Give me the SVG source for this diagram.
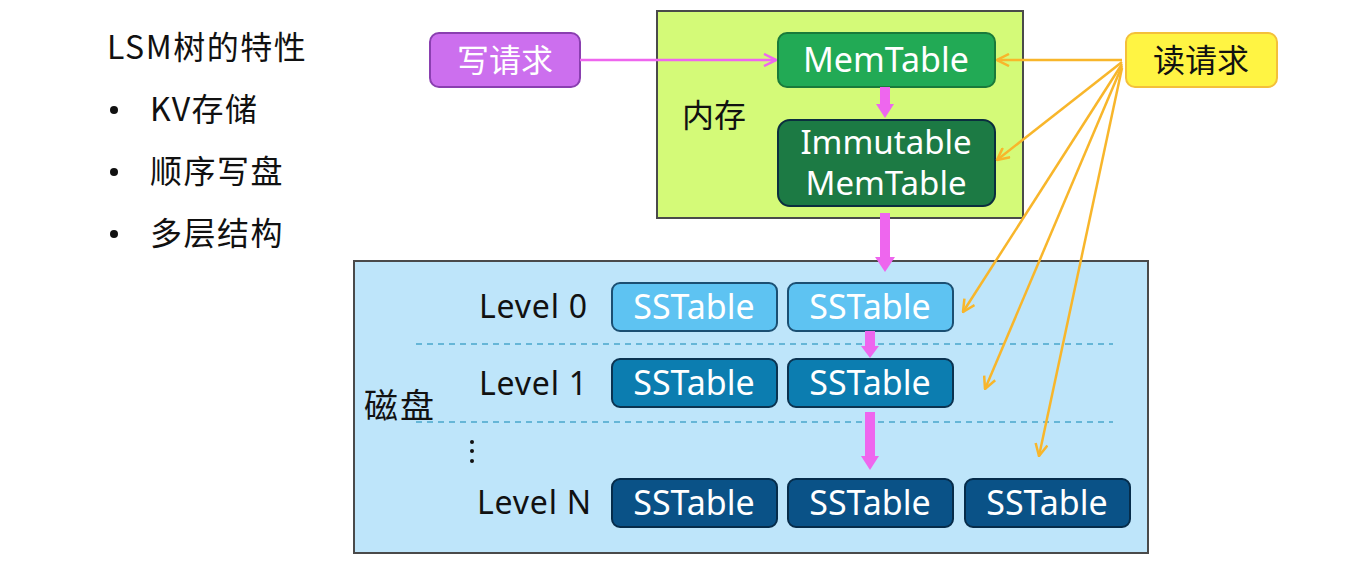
<svg xmlns="http://www.w3.org/2000/svg" width="1352" height="568" viewBox="0 0 1352 568">
<defs>
<style>
.t{font-family:"Noto Sans","Noto Sans CJK SC",sans-serif;}
.cjk{font-family:"Noto Sans CJK SC","Noto Sans",sans-serif;}
.w{fill:#ffffff;text-anchor:middle;}
.ss{font-size:34px;}
.lv{fill:#111;font-size:32px;letter-spacing:0.8px;}
.ss0{fill:#5EC3F2;stroke:#1B4F72;stroke-width:2;}
.ss1{fill:#0C7DB0;stroke:#0B3350;stroke-width:2;}
.ssN{fill:#0A5287;stroke:#062C4A;stroke-width:2;}
.or{stroke:#F8B62B;stroke-width:2.5;fill:none;marker-end:url(#ao);}
.pk{stroke:#EE66EE;stroke-width:10;fill:none;}
.dash{stroke:#4AA6CC;stroke-width:1.5;stroke-dasharray:6 5;}
.li{font-size:32px;fill:#111;letter-spacing:1.5px;}
</style>
<marker id="ao" viewBox="0 0 14 14" refX="13" refY="7" markerWidth="14" markerHeight="14" markerUnits="userSpaceOnUse" orient="auto">
<path d="M1,1 L13,7 L1,13" fill="none" stroke="#F8B62B" stroke-width="2.5"/>
</marker>
<marker id="ap" viewBox="0 0 14 14" refX="13" refY="7" markerWidth="14" markerHeight="14" markerUnits="userSpaceOnUse" orient="auto">
<path d="M1,1 L13,7 L1,13" fill="none" stroke="#EE66EE" stroke-width="2.5"/>
</marker>
</defs>
<rect width="1352" height="568" fill="#ffffff"/>

<g id="features">
<text class="cjk li" x="107" y="59">LSM树的特性</text>
<circle cx="114" cy="110" r="4" fill="#111"/>
<text class="cjk li" x="150" y="121">KV存储</text>
<circle cx="114" cy="172" r="4" fill="#111"/>
<text class="cjk li" x="150" y="183">顺序写盘</text>
<circle cx="114" cy="234" r="4" fill="#111"/>
<text class="cjk li" x="150" y="245">多层结构</text>
</g>

<g id="memory">
<rect x="657" y="11" width="366" height="207" fill="#D4FA78" stroke="#4A4A4A" stroke-width="2"/>
<text class="cjk" x="682" y="127" font-size="32" fill="#111">内存</text>
</g>

<g id="disk">
<rect x="354" y="261" width="794" height="292" fill="#BEE5FA" stroke="#4A4A4A" stroke-width="2"/>
<text class="cjk" x="364" y="418" font-size="34" fill="#111" letter-spacing="2">磁盘</text>
<line class="dash" x1="416" y1="344" x2="1113" y2="344"/>
<line class="dash" x1="416" y1="422" x2="1113" y2="422"/>
<circle cx="472" cy="442" r="2" fill="#111"/>
<circle cx="472" cy="451" r="2" fill="#111"/>
<circle cx="472" cy="461" r="2" fill="#111"/>
</g>

<g id="write-request">
<rect x="430" y="33" width="150" height="54" rx="9" fill="#CC6FEE" stroke="#8A3FB0" stroke-width="2"/>
<text class="cjk w" x="505" y="72" font-size="32">写请求</text>
</g>

<g id="read-request">
<rect x="1126" y="33" width="151" height="54" rx="9" fill="#FFF443" stroke="#F4C03A" stroke-width="2"/>
<text class="cjk" x="1201" y="72" font-size="32" fill="#111" text-anchor="middle">读请求</text>
</g>

<g id="memtable">
<rect x="778" y="33" width="217" height="54" rx="9" fill="#22AA55" stroke="#1A7A3A" stroke-width="2"/>
<text class="t w" x="886" y="72" font-size="34">MemTable</text>
</g>

<g id="immutable">
<rect x="778" y="120" width="217" height="86" rx="12" fill="#1C7A44" stroke="#0B2E3E" stroke-width="2"/>
<text class="t w" x="886" y="154" font-size="33">Immutable</text>
<text class="t w" x="886" y="195" font-size="33">MemTable</text>
</g>

<g id="level0">
<text class="t lv" x="479" y="318">Level 0</text>
<rect class="ss0" x="612" y="283" width="165" height="48" rx="8"/>
<text class="t w ss" x="694" y="319">SSTable</text>
<rect class="ss0" x="788" y="283" width="165" height="48" rx="8"/>
<text class="t w ss" x="870" y="319">SSTable</text>
</g>

<g id="level1">
<text class="t lv" x="479" y="395">Level 1</text>
<rect class="ss1" x="612" y="359" width="165" height="48" rx="8"/>
<text class="t w ss" x="694" y="395">SSTable</text>
<rect class="ss1" x="788" y="359" width="165" height="48" rx="8"/>
<text class="t w ss" x="870" y="395">SSTable</text>
</g>

<g id="levelN">
<text class="t lv" x="477" y="514">Level N</text>
<rect class="ssN" x="612" y="479" width="165" height="48" rx="8"/>
<text class="t w ss" x="694" y="515">SSTable</text>
<rect class="ssN" x="788" y="479" width="165" height="48" rx="8"/>
<text class="t w ss" x="870" y="515">SSTable</text>
<rect class="ssN" x="965" y="479" width="165" height="48" rx="8"/>
<text class="t w ss" x="1047" y="515">SSTable</text>
</g>

<g id="connectors">
<line x1="580" y1="60" x2="776" y2="60" stroke="#EE66EE" stroke-width="2.5" marker-end="url(#ap)"/>
<line class="pk" x1="885" y1="87" x2="885" y2="106"/>
<polygon points="876,104 894,104 885,118" fill="#EE66EE"/>
<line class="pk" x1="885" y1="213" x2="885" y2="259"/>
<polygon points="875,257 895,257 885,272" fill="#EE66EE"/>
<line class="pk" x1="870" y1="331" x2="870" y2="348"/>
<polygon points="861,346 879,346 870,358" fill="#EE66EE"/>
<line class="pk" x1="870" y1="412" x2="870" y2="458"/>
<polygon points="861,456 879,456 870,470" fill="#EE66EE"/>
<line class="or" x1="1122" y1="60" x2="997" y2="60"/>
<line class="or" x1="1122" y1="62" x2="997" y2="160"/>
<line class="or" x1="1122" y1="64" x2="963" y2="312"/>
<line class="or" x1="1122" y1="66" x2="985" y2="389"/>
<line class="or" x1="1122" y1="68" x2="1039" y2="456"/>
</g>
</svg>
